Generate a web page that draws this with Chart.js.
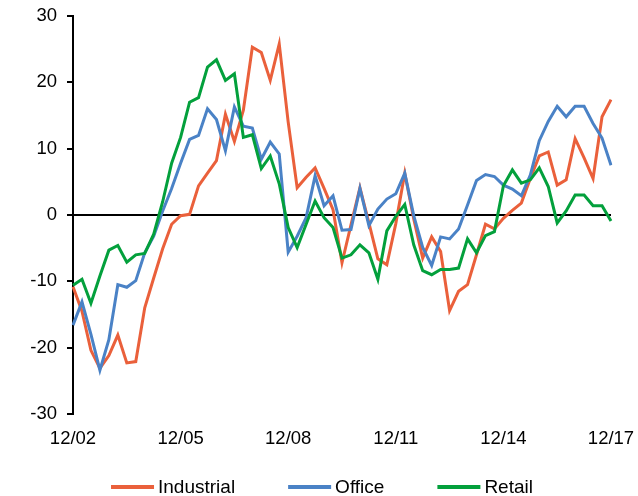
<!DOCTYPE html>
<html>
<head>
<meta charset="utf-8">
<script src="https://cdn.jsdelivr.net/npm/chart.js@4.4.1/dist/chart.umd.min.js"></script>
<style>
  html, body { margin: 0; padding: 0; background: #fff; }
  #wrap { width: 638px; height: 496px; position: relative; }
</style>
</head>
<body>
<div id="wrap"><canvas id="chart" width="638" height="496"></canvas></div>
<script>
// Quarterly periods, Dec 2002 to Dec 2017
const quarters = [
  '12/02',
  '3/03','6/03','9/03','12/03',
  '3/04','6/04','9/04','12/04',
  '3/05','6/05','9/05','12/05',
  '3/06','6/06','9/06','12/06',
  '3/07','6/07','9/07','12/07',
  '3/08','6/08','9/08','12/08',
  '3/09','6/09','9/09','12/09',
  '3/10','6/10','9/10','12/10',
  '3/11','6/11','9/11','12/11',
  '3/12','6/12','9/12','12/12',
  '3/13','6/13','9/13','12/13',
  '3/14','6/14','9/14','12/14',
  '3/15','6/15','9/15','12/15',
  '3/16','6/16','9/16','12/16',
  '3/17','6/17','9/17','12/17'
];

const industrial = [
  -10.8, -14.5, -20.4, -23.1, -21.2, -18.1, -22.3, -22.1, -14.0, -9.5,
  -5.1, -1.4, -0.1, 0.1, 4.4, 6.3, 8.2, 15.2, 11.1, 15.8,
  25.3, 24.5, 20.3, 25.8, 14.0, 4.1, 5.7, 7.1, 4.0, 0.8,
  -7.2, -1.5, 4.1, -1.2, -6.6, -7.5, -1.3, 6.3, -0.6, -6.5,
  -3.3, -5.5, -14.4, -11.5, -10.5, -6.0, -1.4, -2.1, -0.5, 0.7,
  1.8, 5.5, 8.9, 9.5, 4.5, 5.3, 11.5, 8.6, 5.5, 14.8,
  17.4
];

const office = [
  -16.6, -13.1, -18.0, -23.4, -18.8, -10.5, -10.9, -9.9, -5.7, -3.2,
  0.6, 4.0, 7.8, 11.4, 12.0, 16.0, 14.4, 9.7, 16.3, 13.4,
  13.1, 8.4, 11.0, 9.2, -5.6, -3.2, -0.4, 5.9, 1.4, 2.9,
  -2.3, -2.2, 4.0, -1.6, 0.9, 2.4, 3.2, 6.3, -0.1, -4.9,
  -7.6, -3.3, -3.6, -2.1, 1.5, 5.2, 6.1, 5.8, 4.5, 3.9,
  2.9, 6.0, 11.2, 14.1, 16.4, 14.8, 16.4, 16.4, 13.8, 11.6,
  7.5
];

const retail = [
  -10.6, -9.7, -13.3, -9.2, -5.3, -4.6, -7.1, -6.0, -5.8, -2.9,
  2.0, 7.8, 11.7, 17.0, 17.7, 22.3, 23.4, 20.3, 21.3, 11.7,
  12.1, 7.0, 8.9, 4.7, -1.9, -4.9, -1.4, 2.1, -0.4, -1.9,
  -6.5, -6.0, -4.5, -5.7, -9.7, -2.4, -0.2, 1.6, -4.5, -8.4,
  -9.0, -8.2, -8.2, -8.0, -3.6, -5.7, -3.1, -2.5, 4.4, 6.8,
  4.8, 5.3, 7.1, 4.3, -1.2, 0.6, 3.0, 3.0, 1.4, 1.4,
  -0.9
];

const seriesNames = ['Industrial', 'Office', 'Retail'];
const seriesColors = ['#EA603B', '#4A82C6', '#03A03C'];
const yTicks = [-30, -20, -10, 0, 10, 20, 30];

const FONT = "'Liberation Sans', Arial, sans-serif";

// Legend drawn below the axis: short coloured line followed by the series name
const bottomLegend = {
  id: 'bottomLegend',
  afterDraw(chart) {
    const ctx = chart.ctx;
    const lineLen = 43, gap = 4, spacing = 53, y = 487;
    ctx.save();
    ctx.font = '19px ' + FONT;
    ctx.textBaseline = 'middle';
    const items = chart.data.datasets.map(ds => ({
      text: ds.label, color: ds.borderColor, w: ctx.measureText(ds.label).width
    }));
    const total = items.reduce((s, it) => s + lineLen + gap + it.w, 0) + spacing * (items.length - 1);
    let x = 322 - total / 2;
    items.forEach(it => {
      ctx.strokeStyle = it.color;
      ctx.lineWidth = 4;
      ctx.beginPath();
      ctx.moveTo(x, y);
      ctx.lineTo(x + lineLen, y);
      ctx.stroke();
      ctx.fillStyle = '#000';
      ctx.fillText(it.text, x + lineLen + gap, y + 1);
      x += lineLen + gap + it.w + spacing;
    });
    ctx.restore();
  }
};

const values = [industrial, office, retail];

new Chart(document.getElementById('chart'), {
  type: 'line',
  data: {
    labels: quarters,
    datasets: values.map((v, i) => ({
      label: seriesNames[i],
      data: v,
      borderColor: seriesColors[i],
      backgroundColor: seriesColors[i],
      borderWidth: 3,
      pointRadius: 0,
      tension: 0,
      fill: false,
      order: 3 - i
    }))
  },
  options: {
    responsive: false,
    animation: false,
    layout: { padding: { left: 0, right: 27, top: 16, bottom: 0 } },
    plugins: {
      legend: { display: false },
      tooltip: { enabled: false }
    },
    scales: {
      x: {
        type: 'category',
        offset: false,
        grid: { display: false, drawTicks: false },
        border: { display: false },
        ticks: {
          autoSkip: false,
          maxRotation: 0,
          minRotation: 0,
          padding: 14,
          color: '#000',
          font: { family: FONT, size: 18.5 },
          callback: function (val, idx) {
            return idx % 12 === 0 ? this.getLabelForValue(val) : '';
          }
        },
        afterFit(scale) {
          scale.height = 82;
          scale.paddingLeft = 0;
          scale.paddingRight = 0;
        }
      },
      y: {
        min: yTicks[0],
        max: yTicks[yTicks.length - 1],
        afterBuildTicks(scale) { scale.ticks = yTicks.map(v => ({ value: v })); },
        grid: {
          drawOnChartArea: true,
          drawTicks: true,
          tickLength: 6,
          lineWidth: 2,
          tickColor: '#000',
          color: ctx => (ctx.tick && ctx.tick.value === 0) ? '#000' : 'rgba(0,0,0,0)'
        },
        border: { display: true, color: '#000', width: 2 },
        ticks: {
          padding: 10,
          color: '#000',
          font: { family: FONT, size: 18.5 }
        },
        afterFit(scale) {
          scale.width = 73;
          scale.paddingTop = 0;
          scale.paddingBottom = 0;
        }
      }
    }
  },
  plugins: [bottomLegend]
});
</script>
</body>
</html>
